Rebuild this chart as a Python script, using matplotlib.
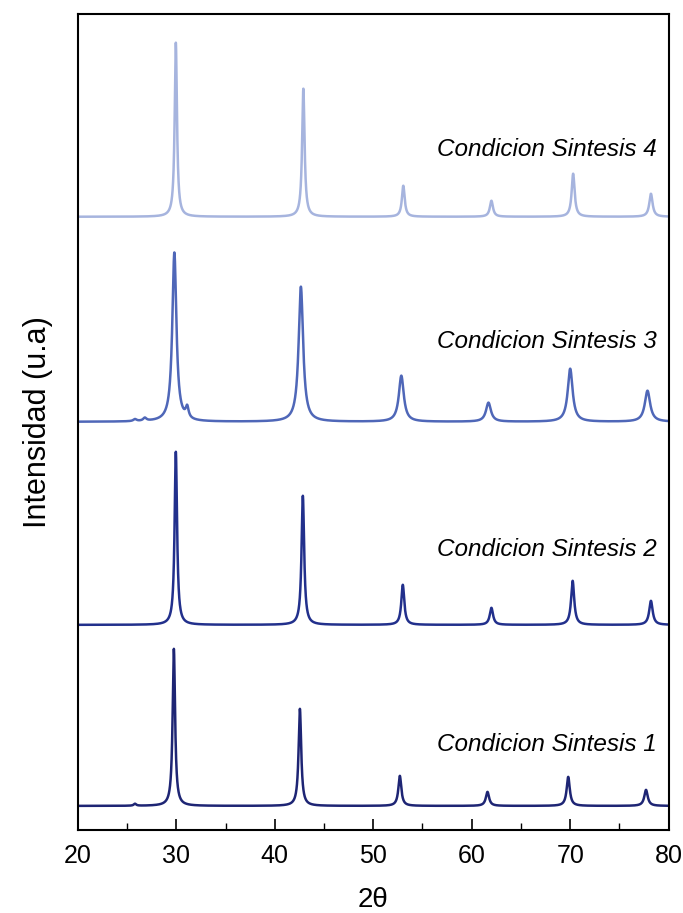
import numpy as np
import matplotlib.pyplot as plt
from matplotlib.ticker import MultipleLocator

plt.rcParams['font.family'] = ['Liberation Sans', 'DejaVu Sans']

# Peak tables for each synthesis condition (2theta, height, FWHM), offset baselines
pos_1 = [25.8, 29.75, 42.55, 52.7, 61.6, 69.8, 77.7]
hgt_1 = [2, 157, 97, 30, 14, 29, 16]
fwhm_1 = [0.3, 0.3, 0.32, 0.36, 0.4, 0.38, 0.42]

pos_2 = [29.95, 42.85, 53.0, 62.0, 70.25, 78.2]
hgt_2 = [173, 129, 40, 17, 44, 24]
fwhm_2 = [0.3, 0.32, 0.36, 0.4, 0.38, 0.42]

pos_3 = [25.8, 26.8, 29.8, 31.1, 42.65, 52.85, 61.7, 70.0, 77.85]
hgt_3 = [2, 3, 169, 11, 135, 46, 19, 53, 31]
fwhm_3 = [0.4, 0.4, 0.5, 0.35, 0.55, 0.6, 0.6, 0.6, 0.65]

pos_4 = [29.95, 42.9, 53.05, 62.0, 70.3, 78.2]
hgt_4 = [174, 128, 31, 16, 43, 23]
fwhm_4 = [0.28, 0.3, 0.34, 0.38, 0.36, 0.4]

baselines = [24, 205, 408, 613]
labels = ['Condicion Sintesis 1', 'Condicion Sintesis 2',
          'Condicion Sintesis 3', 'Condicion Sintesis 4']
label_y = [85, 280, 488, 680]
colors = ['#1e2574', '#22308c', '#4f67b8', '#a6b4de']

two_theta = np.linspace(20, 80, 6001)


def pattern(pos, hgt, fwhm):
    # sum of Lorentzian peaks
    y = np.zeros_like(two_theta)
    for p, h, w in zip(pos, hgt, fwhm):
        g = w / 2.0
        y += h * g**2 / ((two_theta - p)**2 + g**2)
    return y


peaks = [(pos_1, hgt_1, fwhm_1), (pos_2, hgt_2, fwhm_2),
         (pos_3, hgt_3, fwhm_3), (pos_4, hgt_4, fwhm_4)]

fig = plt.figure(figsize=(6.83, 9.13), dpi=100)
ax = fig.add_axes([0.114, 0.091, 0.865, 0.894])

for (pos, hgt, fwhm), base, col, lab, ly in zip(peaks, baselines, colors, labels, label_y):
    ax.plot(two_theta, base + pattern(pos, hgt, fwhm), color=col, lw=1.8)
    ax.text(78.8, ly, lab, ha='right', va='center', fontsize=17.5, style='italic')

ax.set_xlim(20, 80)
ax.set_ylim(0, 816)
ax.xaxis.set_major_locator(MultipleLocator(10))
ax.xaxis.set_minor_locator(MultipleLocator(5))
ax.tick_params(axis='x', which='major', direction='in', length=8, width=1.2,
               labelsize=18, pad=10)
ax.tick_params(axis='x', which='minor', direction='in', length=5, width=1.0)
ax.set_yticks([])
for s in ax.spines.values():
    s.set_linewidth(1.5)

ax.set_xlabel('2θ', fontsize=20, labelpad=14)
ax.set_ylabel('Intensidad (u.a)', fontsize=22, labelpad=18)

fig.savefig('out.png', dpi=100)
